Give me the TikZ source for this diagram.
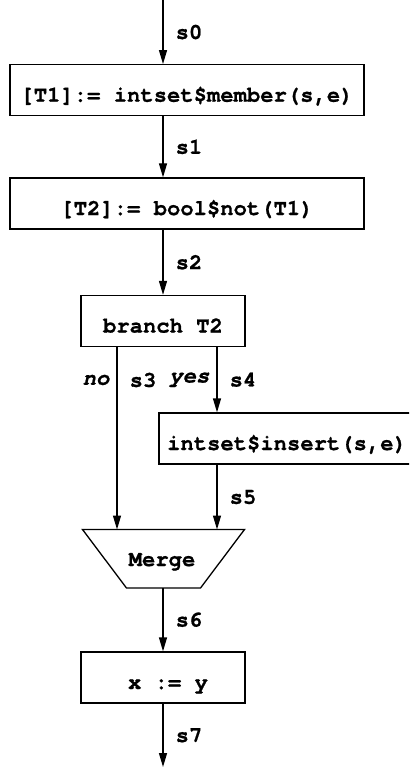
\documentclass[tikz,border=0pt]{standalone}
\usepackage{fontspec}
\setmonofont[BoldFeatures={FakeBold=0.8},BoldItalicFeatures={FakeBold=0.8}]{TeX Gyre Cursor}
\usetikzlibrary{arrows.meta}
\begin{document}
\tikzset{
  codefont/.style={font=\ttfamily\bfseries\fontsize{22.2}{24}\selectfont},
  stmt/.style={draw, line width=1.3pt, rectangle, inner sep=0pt, codefont,
    text height=23pt, text depth=0pt, minimum height=51pt},
  mergebox/.style={draw, line width=1.3pt, line join=miter},
  flow/.style={line width=1.3pt, -{Triangle[length=14pt,width=8pt]}},
  lab/.style={codefont, inner sep=0pt, anchor=west, xshift=12pt},
  cond/.style={font=\ttfamily\bfseries\itshape\fontsize{22.2}{24}\selectfont,
    inner sep=0pt, anchor=east, xshift=-7pt}
}
\begin{tikzpicture}[x=1pt,y=-1pt]
  \useasboundingbox (0,0) rectangle (409,767);
  \clip (0,0) rectangle (409,767);

  % entry / exit and column positions
  \coordinate (in) at (163,0);
  \coordinate (out) at (163,767);
  \coordinate (nox) at (117,0);
  \coordinate (yesx) at (217,0);

  % statements
  \node[stmt, minimum width=354pt] (b1) at (187,90.2) {[T1]:= intset\$member(s,e)};
  \node[stmt, minimum width=354pt] (b2) at (187,203.5) {[T2]:= bool\$not(T1)};
  \node[stmt, minimum width=164pt] (br) at (163,321) {branch T2};
  \node[stmt, minimum width=256pt] (ins) at (287,438.5) {intset\$insert(s,e)};
  \node[stmt, minimum width=164pt] (asg) at (163,677.5) {\hspace*{10pt}x := y};

  % merge trapezoid
  \coordinate (mnw) at (82.5,529.5);
  \coordinate (mne) at (244.5,529.5);
  \coordinate (mse) at (200.5,588);
  \coordinate (msw) at (126.5,588);
  \draw[mergebox] (mnw) -- (mne) -- (mse) -- (msw) -- cycle;
  \node[codefont, inner sep=0pt, anchor=base] (merge) at (162,566) {Merge};

  % control flow
  \draw[flow] (in) -- node[lab]{s0} (b1.north -| in);
  \draw[flow] (b1.south -| in) -- node[lab]{s1} (b2.north -| in);
  \draw[flow] (b2.south -| in) -- node[lab]{s2} (br.north);
  \draw[flow] (br.south -| nox) -- node[lab,pos=0.18]{s3} node[cond,pos=0.18]{no} (mnw -| nox);
  \draw[flow] (br.south -| yesx) -- node[lab]{s4} node[cond]{yes} (ins.north -| yesx);
  \draw[flow] (ins.south -| yesx) -- node[lab]{s5} (mnw -| yesx);
  \draw[flow] (msw -| in) -- node[lab]{s6} (asg.north);
  \draw[flow] (asg.south) -- node[lab]{s7} (out);
\end{tikzpicture}
\end{document}
